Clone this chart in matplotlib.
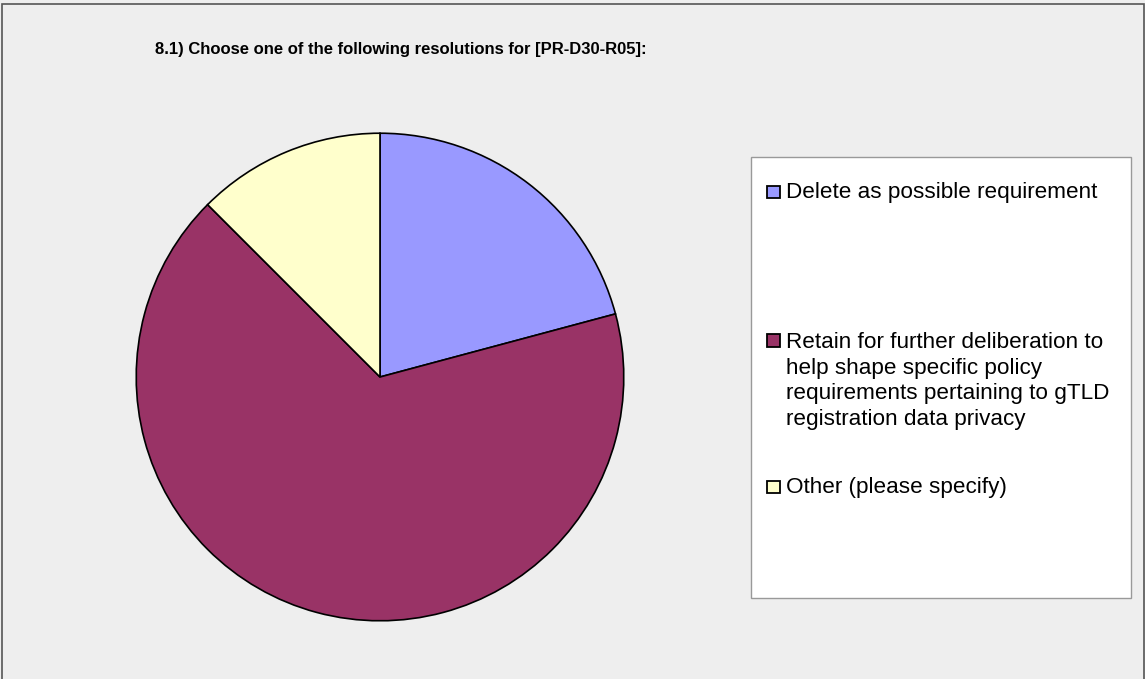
import matplotlib.pyplot as plt
from matplotlib import font_manager
from matplotlib.patches import Rectangle

# Survey answers (counts out of 24 respondents)
labels = [
    'Delete as possible requirement',
    'Retain for further deliberation to\nhelp shape specific policy\nrequirements pertaining to gTLD\nregistration data privacy',
    'Other (please specify)',
]
counts = [5, 16, 3]
colors = ['#9999FF', '#993366', '#FFFFCC']
title = '8.1) Choose one of the following resolutions for [PR-D30-R05]:'

# the original title uses a narrow bold face; use one if it is installed
installed = {f.name for f in font_manager.fontManager.ttflist}
if 'Liberation Sans Narrow' in installed:
    title_font, title_size = 'Liberation Sans Narrow', 14
else:
    title_font, title_size = 'Liberation Sans', 12

W, H = 1145, 679
fig = plt.figure(figsize=(W / 100, H / 100), dpi=100)
fig.patch.set_facecolor('#EEEEEE')

# outer frame of the chart area
fig.patches.append(Rectangle((2 / W, -0.01), 1142 / W, 1.01 - 4 / H,
                             transform=fig.transFigure, fill=False,
                             edgecolor='#555555', lw=1.2))

# pie, centre (380, 377) px, radius 245 px
cx, cy, r = 380, 377, 245
ax = fig.add_axes([(cx - r) / W, (H - cy - r) / H, 2 * r / W, 2 * r / H])
ax.pie(counts, colors=colors, startangle=90, counterclock=False, radius=1,
       wedgeprops=dict(edgecolor='black', linewidth=1.2))
ax.set_xlim(-1.005, 1.005)
ax.set_ylim(-1.005, 1.005)
ax.axis('off')

fig.text(401 / W, 1 - 54 / H, title, ha='center', va='baseline',
         fontsize=title_size, fontweight='bold', family=title_font)

# legend box drawn by hand (Excel spreads the entries unevenly)
x0, y0, x1, y1 = 751, 157, 1131, 598
fig.patches.append(Rectangle((x0 / W, 1 - y1 / H), (x1 - x0) / W, (y1 - y0) / H,
                             transform=fig.transFigure, facecolor='white',
                             edgecolor='#999999', lw=1))
# baseline of the first line of each entry; lines are 26 px apart
baselines = [198, 347, 493]
line_gap = 26
for lab, col, by in zip(labels, colors, baselines):
    fig.patches.append(Rectangle((767 / W, 1 - by / H), 13 / W, 12.5 / H,
                                 transform=fig.transFigure, facecolor=col,
                                 edgecolor='black', lw=1.3))
    # va='baseline' pins the last line, so shift by the extra lines
    last = by + line_gap * lab.count('\n')
    fig.text(786 / W, 1 - last / H, lab, ha='left', va='baseline',
             fontsize=16.2, family='Liberation Sans', linespacing=1.29)

fig.savefig('out.png', dpi=100, facecolor=fig.get_facecolor())
